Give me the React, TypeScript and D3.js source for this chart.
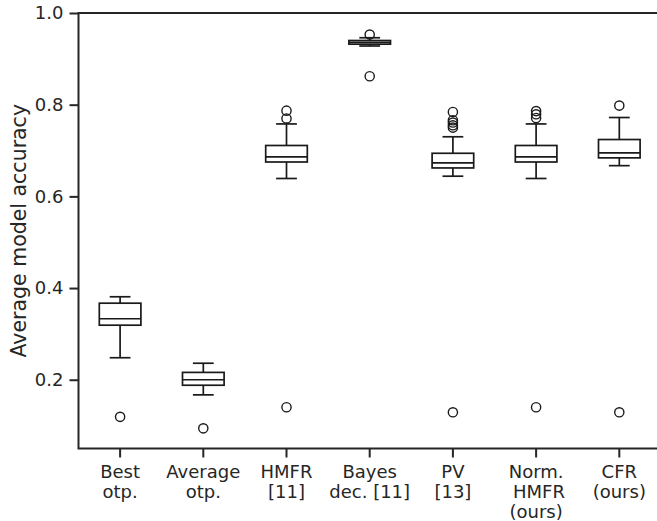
import React, { useEffect, useRef } from 'react';
import * as d3 from 'd3';

// category labels (multi-line, as on the x axis)
const categories = ['Best\notp.', 'Average\notp.', 'HMFR\n[11]', 'Bayes\ndec. [11]', 'PV\n[13]', 'Norm.\n HMFR\n(ours)', 'CFR\n(ours)'];

// box summary values
const whiskerLow = [0.248, 0.167, 0.639, 0.928, 0.644, 0.639, 0.667];
const q1 = [0.319, 0.188, 0.675, 0.932, 0.662, 0.675, 0.684];
const median = [0.333, 0.200, 0.686, 0.936, 0.673, 0.686, 0.695];
const q3 = [0.367, 0.216, 0.711, 0.940, 0.694, 0.711, 0.724];
const whiskerHigh = [0.381, 0.236, 0.758, 0.946, 0.730, 0.758, 0.772];
const outliers = [
    [0.119],
    [0.094],
    [0.787, 0.770, 0.140],
    [0.953, 0.862],
    [0.784, 0.766, 0.761, 0.755, 0.750, 0.129],
    [0.786, 0.779, 0.771, 0.140],
    [0.798, 0.129],
];

const yTicks = [0.2, 0.4, 0.6, 0.8, 1.0];

const BoxChart = () => {
    const ref = useRef<SVGSVGElement>(null);

    useEffect(() => {
        const svg = d3.select(ref.current);
        svg.selectAll('*').remove();

        const left = 78.5, top = 13, bottom = 448.5;
        const band = 83.2;
        const ink = '#262626';
        const font = 'DejaVu Sans, sans-serif';

        const x = d3.scaleBand<number>()
            .domain(d3.range(categories.length))
            .range([left, left + band * categories.length])
            .padding(0);

        const y = d3.scaleLinear()
            .domain([0.05, 1.0])
            .range([bottom, top]);

        const bw = x.bandwidth();
        const boxW = bw * 0.5;
        const capW = bw * 0.25;

        // boxes
        const g = svg.append('g');
        categories.forEach((_, i) => {
            const cx = x(i)! + bw / 2;
            const grp = g.append('g')
                .attr('stroke', '#1a1a1a')
                .attr('stroke-width', 1.7)
                .attr('fill', 'none');

            grp.append('line')
                .attr('x1', cx).attr('x2', cx)
                .attr('y1', y(q3[i])).attr('y2', y(whiskerHigh[i]));
            grp.append('line')
                .attr('x1', cx).attr('x2', cx)
                .attr('y1', y(q1[i])).attr('y2', y(whiskerLow[i]));
            grp.append('line')
                .attr('x1', cx - capW / 2).attr('x2', cx + capW / 2)
                .attr('y1', y(whiskerHigh[i])).attr('y2', y(whiskerHigh[i]));
            grp.append('line')
                .attr('x1', cx - capW / 2).attr('x2', cx + capW / 2)
                .attr('y1', y(whiskerLow[i])).attr('y2', y(whiskerLow[i]));
            grp.append('rect')
                .attr('x', cx - boxW / 2)
                .attr('width', boxW)
                .attr('y', y(q3[i]))
                .attr('height', y(q1[i]) - y(q3[i]))
                .attr('fill', 'white');
            grp.append('line')
                .attr('x1', cx - boxW / 2).attr('x2', cx + boxW / 2)
                .attr('y1', y(median[i])).attr('y2', y(median[i]));

            grp.selectAll('circle')
                .data(outliers[i])
                .enter()
                .append('circle')
                .attr('cx', cx)
                .attr('cy', d => y(d))
                .attr('r', 4.6)
                .attr('stroke-width', 1.4);
        });

        // frame
        const right = left + band * categories.length;
        svg.append('rect')
            .attr('x', left).attr('y', top)
            .attr('width', right - left).attr('height', bottom - top)
            .attr('fill', 'none')
            .attr('stroke', ink)
            .attr('stroke-width', 2);

        // y axis
        const yAxis = svg.append('g')
            .attr('transform', `translate(${left},0)`)
            .call(d3.axisLeft(y)
                .tickValues(yTicks)
                .tickSize(9)
                .tickPadding(6)
                .tickFormat(d3.format('.1f')));
        yAxis.select('.domain').remove();
        yAxis.selectAll('line').attr('stroke', ink).attr('stroke-width', 2);
        yAxis.selectAll('text')
            .attr('fill', ink)
            .style('font-family', font)
            .style('font-size', '18px');

        // x axis ticks
        const xg = svg.append('g');
        categories.forEach((c, i) => {
            const cx = x(i)! + bw / 2;
            xg.append('line')
                .attr('x1', cx).attr('x2', cx)
                .attr('y1', bottom).attr('y2', bottom + 9)
                .attr('stroke', ink)
                .attr('stroke-width', 2);
            const t = xg.append('text')
                .attr('text-anchor', 'middle')
                .attr('fill', ink)
                .style('font-family', font)
                .style('font-size', '18px')
                .style('white-space', 'pre');
            c.split('\n').forEach((line, j) => {
                t.append('tspan')
                    .attr('x', cx)
                    .attr('y', 478 + j * 20.2)
                    .text(line);
            });
        });

        // y label
        svg.append('text')
            .attr('transform', `translate(25.5,${(top + bottom) / 2}) rotate(-90)`)
            .attr('text-anchor', 'middle')
            .attr('fill', ink)
            .style('font-family', font)
            .style('font-size', '20.5px')
            .text('Average model accuracy');
    }, []);

    return <svg ref={ref} width={657} height={521} style={{ display: 'block' }}></svg>;
};

export default function App() {
    return (
        <div style={{ position: 'absolute', left: 0, top: 0 }}>
            <BoxChart />
        </div>
    );
}
